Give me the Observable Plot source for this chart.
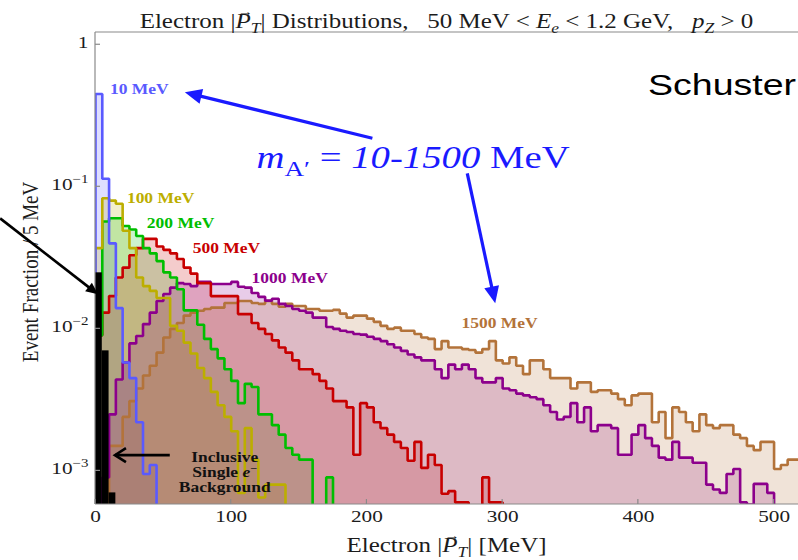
<!DOCTYPE html>
<html>
<head>
<meta charset="utf-8">
<script src="https://cdn.jsdelivr.net/npm/d3@7"></script>
<script src="https://cdn.jsdelivr.net/npm/@observablehq/plot@0.6"></script>
<style>
  html, body { margin: 0; padding: 0; background: #fff; }
  #chart { width: 798px; height: 560px; }
</style>
</head>
<body>
<div id="chart"></div>
<script>
// Electron transverse-momentum spectra, fraction of events per 5 MeV bin
const BIN_WIDTH = 5; // MeV
const seriesNames = ["10 MeV", "100 MeV", "200 MeV", "500 MeV", "1000 MeV", "1500 MeV"];

const frac10 = [0.45, 0.114, 0.040, 0.014, 0.0058, 0.0045, 0.0022, 0.00095, 0.0011];

const frac100 = [0.037, 0.083, 0.080, 0.076, 0.049, 0.037, 0.023, 0.020, 0.0185, 0.0165,
  0.0165, 0.0105, 0.0097, 0.0080, 0.0067, 0.0053, 0.0045, 0.0036, 0.0029, 0.0024,
  0.0019, 0.0007, 0.0020, 0.0012, 0.00065, 0.0008, 0.0008, 0.0008];

const frac200 = [0.009, 0.057, 0.060, 0.060, 0.053, 0.050, 0.045, 0.037, 0.034, 0.030,
  0.025, 0.023, 0.019, 0.0135, 0.0135, 0.0107, 0.0085, 0.0072, 0.0062, 0.0052,
  0.0043, 0.0030, 0.0041, 0.0039, 0.0025, 0.0025, 0.0021, 0.0018, 0.00145, 0.0013,
  0.0012, 0.0012, 0.0005, 0.0005, 0.0009];

const frac500 = [0.009, 0.013, 0.017, 0.023, 0.027, 0.033, 0.037, 0.043, 0.043, 0.038,
  0.036, 0.034, 0.031, 0.027, 0.0245, 0.021, 0.021, 0.017, 0.017, 0.017,
  0.017, 0.0127, 0.0127, 0.011, 0.010, 0.0092, 0.0083, 0.0074, 0.0068, 0.006,
  0.0052, 0.0052, 0.0048, 0.0043, 0.0038, 0.0031, 0.0031, 0.0028, 0.0013, 0.003,
  0.0028, 0.0022, 0.002, 0.0018, 0.0016, 0.00145, 0.00118, 0.0016, 0.00105, 0.0013,
  0.0011, 0.00069, 0.00072, 0.0006, 0.0006, 0.0005, 0.0005, 0.0009, 0.0006, 0.0006];

const frac1000 = [0.0004, 0.0009, 0.0025, 0.0044, 0.0058, 0.0079, 0.0089, 0.0108, 0.0130, 0.0157,
  0.0176, 0.0195, 0.021, 0.0207, 0.020, 0.0214, 0.0214, 0.0207, 0.0207, 0.0207,
  0.0214, 0.0198, 0.0195, 0.0179, 0.0168, 0.0158, 0.0163, 0.015, 0.0145, 0.0138,
  0.0134, 0.013, 0.012, 0.012, 0.0103, 0.0100, 0.0097, 0.0095, 0.0092, 0.0091,
  0.0088, 0.0085, 0.0082, 0.0078, 0.0074, 0.0070, 0.0066, 0.0063, 0.006, 0.006,
  0.0052, 0.0045, 0.0056, 0.0052, 0.0056, 0.0052, 0.0045, 0.0042, 0.0042, 0.0045,
  0.0038, 0.0037, 0.0035, 0.0034, 0.0033, 0.0032, 0.0029, 0.0026, 0.0023, 0.0024,
  0.0030, 0.0022, 0.0028, 0.0019, 0.0021, 0.0021, 0.0020, 0.0013, 0.0013, 0.0018,
  0.0021, 0.0017, 0.0015, 0.00124, 0.0012, 0.0016, 0.00124, 0.00124, 0.00114, 0.00114,
  0.0008, 0.00074, 0.0007, 0.00095, 0.00103, 0.0006, 0.00058, 0.00081, 0.00081, 0.0007,
  0.0005, 0.0005, 0.0005];

const frac1500 = [0.0003, 0.0004, 0.0015, 0.0015, 0.0024, 0.0031, 0.0038, 0.0047, 0.0055, 0.0068,
  0.0087, 0.010, 0.011, 0.0124, 0.013, 0.0134, 0.0138, 0.0141, 0.0141, 0.0152,
  0.0152, 0.0157, 0.0157, 0.0152, 0.015, 0.0157, 0.015, 0.0143, 0.015, 0.0145,
  0.0145, 0.0138, 0.0138, 0.0134, 0.0134, 0.0136, 0.0128, 0.012, 0.0124, 0.0124,
  0.0118, 0.0112, 0.0105, 0.010, 0.0102, 0.0097, 0.0097, 0.0092, 0.0087, 0.0085,
  0.0072, 0.0082, 0.0074, 0.0074, 0.0072, 0.0071, 0.0068, 0.0072, 0.0082, 0.006,
  0.0057, 0.0063, 0.0055, 0.0048, 0.006, 0.006, 0.0052, 0.0045, 0.0045, 0.0045,
  0.0038, 0.0042, 0.0042, 0.0036, 0.0037, 0.0037, 0.0035, 0.0032, 0.0029, 0.0034,
  0.0035, 0.0035, 0.0022, 0.0026, 0.0017, 0.0028, 0.0026, 0.0022, 0.0019, 0.0025,
  0.0021, 0.0020, 0.0021, 0.0021, 0.0018, 0.0017, 0.0015, 0.0014, 0.0016, 0.0016,
  0.00103, 0.0011, 0.0012, 0.0012];

// inclusive single-electron background
const backgroundFrac = [0.0248, 0.007, 0.0007];

const xTicks = [0, 100, 200, 300, 400, 500];
const yTicks = [1, 0.1, 0.01, 0.001];
const yTickText = ["1", "10^−1", "10^−2", "10^−3"];

// ---------- styling ----------
const SERIF = "'Liberation Serif', 'Times New Roman', serif";
const SANS = "'Liberation Sans', Arial, sans-serif";
const SX = 1.25; // horizontal widening of the lettering
const FLOOR = 1e-4; // below the visible range; histograms drop to here
const colors = ["#5a5aff", "#bcae00", "#00be00", "#c80000", "#8c008c", "#b3733a"];

const seriesValues = [frac10, frac100, frac200, frac500, frac1000, frac1500];
const series = seriesNames.map((name, k) => ({name, values: seriesValues[k], color: colors[k]}));

// outline points for a step histogram starting at 0 MeV
function steps(values) {
  const pts = [{x: 0, y: FLOOR}];
  values.forEach((v, i) => pts.push({x: i * BIN_WIDTH, y: v}));
  pts.push({x: values.length * BIN_WIDTH, y: FLOOR});
  return pts;
}
const bgRows = backgroundFrac.map((v, i) => ({x0: i * BIN_WIDTH, x1: (i + 1) * BIN_WIDTH, v}));
const tickLabel = new Map(yTicks.map((t, i) => [t, yTickText[i]]));

const chart = Plot.plot({
  width: 798,
  height: 560,
  marginLeft: 95,
  marginRight: 0,
  marginTop: 32,
  marginBottom: 56,
  style: {fontFamily: SERIF, fontSize: "17px", color: "#1c1c1c", background: "#fff"},
  x: {domain: [0, 518]},
  y: {type: "log", domain: [5.8e-4, 1.22]},
  marks: [
    ...series.map(s => Plot.areaY(steps(s.values), {
      x: "x", y1: () => FLOOR, y2: "y", curve: "step-after",
      fill: s.color, fillOpacity: 0.2, clip: true
    })),
    ...series.slice().reverse().map(s => Plot.lineY(steps(s.values), {
      x: "x", y: "y", curve: "step-after",
      stroke: s.color, strokeWidth: 2.6, strokeLinejoin: "miter", clip: true
    })),
    Plot.rect(bgRows, {x1: "x0", x2: "x1", y1: () => FLOOR, y2: "v", fill: "black", clip: true}),
    Plot.axisX(xTicks, {tickSize: 0, tickPadding: 17, label: null}),
    Plot.axisY(yTicks, {tickSize: 0, tickPadding: 7, label: null, tickFormat: d => tickLabel.get(d)})
  ]
});

document.getElementById("chart").appendChild(chart);

// ---------- annotation layer ----------
const svg = d3.select(chart);
const xs = chart.scale("x"), ys = chart.scale("y");
const X = v => xs.apply(v), Y = v => ys.apply(v);
const frameL = 95, frameR = 798, frameT = 32, frameB = 504;

// frame lines and inward ticks
const frame = svg.append("g").attr("stroke", "#8a8a8a").attr("stroke-width", 1.2);
frame.append("line").attr("x1", frameL).attr("x2", frameL).attr("y1", frameT).attr("y2", frameB);
frame.append("line").attr("x1", frameL).attr("x2", frameR).attr("y1", frameB).attr("y2", frameB);
frame.append("line").attr("x1", frameL).attr("x2", frameR).attr("y1", frameT).attr("y2", frameT);
xTicks.forEach(t => frame.append("line").attr("x1", X(t)).attr("x2", X(t)).attr("y1", frameB).attr("y2", frameB - 5));
yTicks.forEach(t => frame.append("line").attr("x1", frameL).attr("x2", frameL + 5).attr("y1", Y(t)).attr("y2", Y(t)));

// widen tick lettering and set exponents
function widen(node, shiftY = 0) {
  const x = +node.getAttribute("x") || 0, y = (+node.getAttribute("y") || 0) + shiftY;
  const tr = node.getAttribute("transform") || "";
  node.setAttribute("x", 0);
  node.setAttribute("y", 0);
  node.setAttribute("transform", `${tr} translate(${x},${y}) scale(${SX},1)`);
}
svg.selectAll('g[aria-label="x-axis tick label"] text').each(function () { widen(this); });
svg.selectAll('g[aria-label="y-axis tick label"] text').each(function () {
  const s = this.textContent;
  if (s.includes("^")) {
    const [base, exp] = s.split("^");
    this.textContent = "";
    const t = d3.select(this);
    t.append("tspan").text(base);
    t.append("tspan").attr("dy", -7).attr("font-size", 12).text(exp);
  }
  widen(this, 3);
});

function richText(parent, {x, y, parts, size, anchor = "start", weight = "normal", fill = "#1c1c1c", family = SERIF, rotate = 0, sx = SX}) {
  const g = parent.append("g").attr("transform", rotate
    ? `translate(${x},${y}) rotate(${rotate}) scale(1,${sx})`
    : `translate(${x},${y}) scale(${sx},1)`);
  const text = g.append("text")
    .attr("text-anchor", anchor).attr("font-size", size).attr("font-family", family)
    .attr("font-weight", weight).attr("fill", fill).style("white-space", "pre");
  let shift = 0, idx = 0;
  const vecIdx = [];
  for (const p of parts) {
    const fs = (p.sub || p.sup) ? size * 0.7 : size;
    const target = p.sub ? size * 0.25 : p.sup ? -size * 0.4 : 0;
    const ts = text.append("tspan").attr("font-size", fs).attr("dy", target - shift).text(p.t);
    shift = target;
    if (p.it) ts.attr("font-style", "italic");
    if (p.vec) vecIdx.push(idx);
    idx += p.t.length;
  }
  for (const i of vecIdx) {
    const a = text.node().getStartPositionOfChar(i), b = text.node().getEndPositionOfChar(i);
    g.append("text").attr("x", (a.x + b.x) / 2 + size * 0.08).attr("y", a.y - size * 0.62)
      .attr("text-anchor", "middle").attr("font-size", size * 0.62).attr("font-family", family)
      .attr("fill", fill).text("→");
  }
  return g;
}

const ann = svg.append("g");

// title
richText(ann, {x: (frameL + frameR) / 2, y: 28, size: 20, anchor: "middle", parts: [
  {t: "Electron |"}, {t: "P", it: true, vec: true}, {t: "T", it: true, sub: true},
  {t: "| Distributions,   50 MeV < "}, {t: "E", it: true}, {t: "e", it: true, sub: true},
  {t: " < 1.2 GeV,   "}, {t: "p", it: true}, {t: "Z", it: true, sub: true}, {t: " > 0"}
]});

// axis titles
richText(ann, {x: (frameL + frameR) / 2, y: 552, size: 20, anchor: "middle", parts: [
  {t: "Electron |"}, {t: "P", it: true, vec: true}, {t: "T", it: true, sub: true}, {t: "| [MeV]"}
]});
richText(ann, {x: 38, y: 272, size: 19, anchor: "middle", rotate: -90, parts: [{t: "Event Fraction / 5 MeV"}]});

// series labels, anchored in data coordinates
const labelAnchors = [[11, 0.45], [23.5, 0.076], [38.2, 0.0506], [72, 0.0337], [115.4, 0.0207], [270, 0.0100]];
series.forEach((s, k) => {
  const [mx, fy] = labelAnchors[k];
  richText(ann, {x: X(mx), y: Y(fy), size: 14, weight: "bold", fill: s.color, parts: [{t: s.name}]});
});

// background note
const bgNote = [95.6, 0.00114];
["Inclusive", "Single ", "Background"].forEach((line, i) => {
  const parts = i === 1 ? [{t: "Single "}, {t: "e", it: true}, {t: "−", sup: true}] : [{t: line}];
  richText(ann, {x: X(bgNote[0]), y: Y(bgNote[1]) + i * 15, size: 14, weight: "bold", anchor: "middle", fill: "#111", parts});
});

// mass-range annotation
const BLUE = "#1a1aff";
richText(ann, {x: X(119), y: Y(0.134), size: 31, fill: BLUE, parts: [
  {t: "m", it: true}, {t: "A′", sub: true}, {t: " = "}, {t: "10-1500", it: true}, {t: " MeV"}
]});

function arrow(from, to, {color, width, head = 16, half = 7, open = false}) {
  const [x0, y0] = [X(from[0]), Y(from[1])];
  const [x1, y1] = [X(to[0]), Y(to[1])];
  const len = Math.hypot(x1 - x0, y1 - y0);
  const ux = (x1 - x0) / len, uy = (y1 - y0) / len;
  const nx = -uy, ny = ux;
  const bx = x1 - head * ux, by = y1 - head * uy;
  const g = ann.append("g");
  if (open) {
    g.append("line").attr("x1", x0).attr("y1", y0).attr("x2", x1).attr("y2", y1)
      .attr("stroke", color).attr("stroke-width", width);
    g.append("path").attr("d", `M${bx + half * nx},${by + half * ny}L${x1},${y1}L${bx - half * nx},${by - half * ny}`)
      .attr("fill", "none").attr("stroke", color).attr("stroke-width", width).attr("stroke-linejoin", "miter");
  } else {
    g.append("line").attr("x1", x0).attr("y1", y0).attr("x2", bx + ux).attr("y2", by + uy)
      .attr("stroke", color).attr("stroke-width", width);
    g.append("path").attr("d", `M${x1},${y1}L${bx + half * nx},${by + half * ny}L${bx - half * nx},${by - half * ny}Z`)
      .attr("fill", color);
  }
}
arrow([204.4, 0.218], [66.2, 0.459], {color: BLUE, width: 3.2, head: 17, half: 7.5});
arrow([274.3, 0.1235], [294.9, 0.015], {color: BLUE, width: 3.2, head: 17, half: 7.5});
arrow([-69.9, 0.0595], [2.2, 0.01735], {color: "#000", width: 2.6, head: 12, half: 5.5});
arrow([55.1, 0.00128], [14.7, 0.00128], {color: "#000", width: 2.6, head: 11, half: 7, open: true});

// speaker tag
richText(ann, {x: 796, y: 95, size: 30, anchor: "end", family: SANS, fill: "#000", parts: [{t: "Schuster"}]});
</script>
</body>
</html>
